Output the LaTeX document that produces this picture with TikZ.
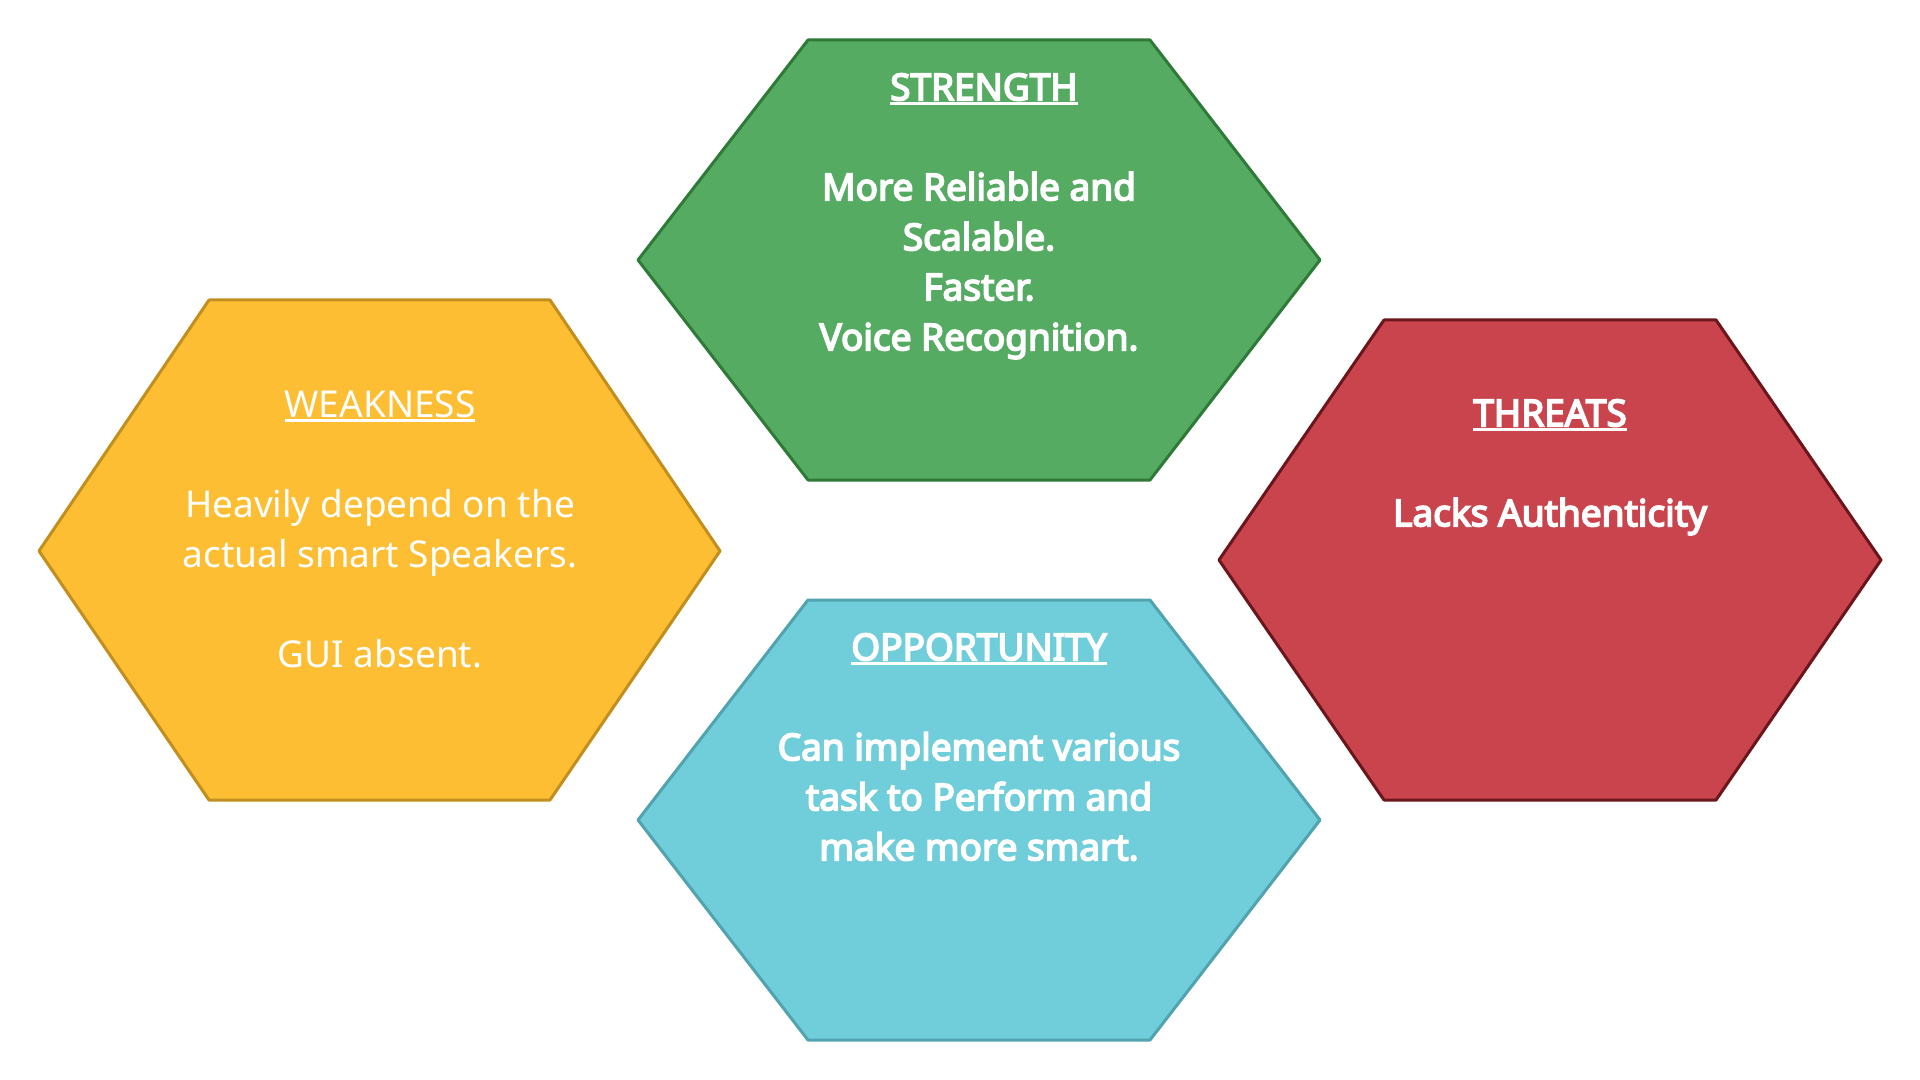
\documentclass[tikz,border=0pt]{standalone}
\usepackage{fontspec}
\setmainfont{Noto Sans}
\newfontfamily\fbold{Noto Sans}[FakeBold=4.5]
\definecolor{grfill}{HTML}{55AB62}
\definecolor{grline}{HTML}{2F7A38}
\definecolor{yefill}{HTML}{FDBE33}
\definecolor{yeline}{HTML}{C28E1D}
\definecolor{refill}{HTML}{CA444E}
\definecolor{reline}{HTML}{6A161C}
\definecolor{cyfill}{HTML}{6FCED9}
\definecolor{cyline}{HTML}{51A3AF}
\newcommand\ulx[1]{\setbox0\hbox{#1}\rlap{\rule[-2.3pt]{\wd0}{1.2pt}}\box0}
\begin{document}
\begin{tikzpicture}[x=0.5pt,y=-0.5pt,
  hexbox/.style={line width=1.5pt, line join=round},
  hextext/.style={text=white, align=center, anchor=north, inner sep=0pt,
    font=\fontsize{18.5}{25}\selectfont},
  hexbold/.style={hextext, font=\fontsize{18.5}{25}\fbold}]
\useasboundingbox (0,0) rectangle (1920,1080);
\fill[white] (0,0) rectangle (1920,1080);
% hexagons
\draw[hexbox, fill=grfill, draw=grline] (808,40) -- (1150,40) -- (1320,260) -- (1150,480) -- (808,480) -- (638,260) -- cycle;
\draw[hexbox, fill=yefill, draw=yeline] (209,300) -- (550,300) -- (720,551) -- (550,800) -- (209,800) -- (39,551) -- cycle;
\draw[hexbox, fill=refill, draw=reline] (1384,320) -- (1716,320) -- (1881,560) -- (1716,800) -- (1384,800) -- (1219,560) -- cycle;
\draw[hexbox, fill=cyfill, draw=cyline] (808,600) -- (1150,600) -- (1320,820) -- (1150,1040) -- (808,1040) -- (638,820) -- cycle;
% texts
\node[hexbold] (strength) at (979,73)
  {\hspace*{5pt}\ulx{STRENGTH}\\[25pt] More Reliable and\\ Scalable.\\ Faster.\\ Voice Recognition.};
\node[hextext] (weakness) at (380,390)
  {\ulx{WEAKNESS}\\[25pt] Heavily depend on the\\ actual smart Speakers.\\[25pt] GUI absent.};
\node[hexbold] (threats) at (1550,399)
  {\ulx{THREATS}\\[25pt] Lacks Authenticity};
\node[hexbold] (opportunity) at (979,633)
  {\ulx{OPPORTUNITY}\\[25pt] Can implement various\\ task to Perform and\\ make more smart.};
\end{tikzpicture}
\end{document}
